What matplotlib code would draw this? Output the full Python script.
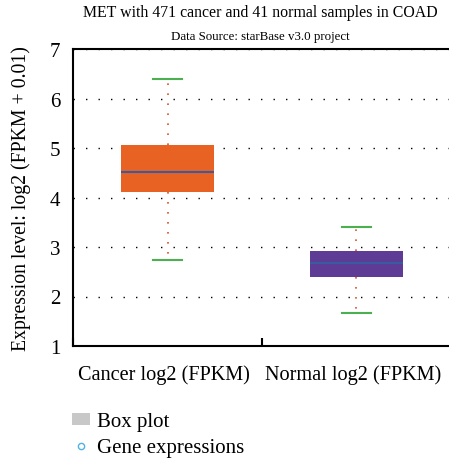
import matplotlib
matplotlib.use("Agg")
import matplotlib.pyplot as plt
from matplotlib.lines import Line2D
from matplotlib.patches import Patch

plt.rcParams['font.family'] = ['Liberation Serif', 'DejaVu Serif']

categories = ["Cancer log2 (FPKM)", "Normal log2 (FPKM)"]
q1 = [4.12, 2.40]
medians = [4.51, 2.68]
q3 = [5.06, 2.92]
whislo = [2.74, 1.67]
whishi = [6.39, 3.40]
box_colors = ["#E86224", "#5E3C96"]
yticks = [1, 2, 3, 4, 5, 6, 7]

fig = plt.figure(figsize=(4.49, 4.64), dpi=100)
ax = fig.add_axes([73/449, 1-347/464, 378/449, 297/464])

stats = []
for i, c in enumerate(categories):
    stats.append(dict(label=c, q1=q1[i], med=medians[i], q3=q3[i],
                      whislo=whislo[i], whishi=whishi[i], fliers=[]))
positions = [0.5, 1.5]
bp = ax.bxp(stats, positions=positions, widths=0.49, patch_artist=True,
            showfliers=False,
            boxprops=dict(linewidth=0),
            medianprops=dict(color="#3A5BA0", linewidth=1.5),
            whiskerprops=dict(color="#D9542E", linestyle=(0, (1, 5)), linewidth=1.2),
            capprops=dict(color="#4CAF50", linewidth=1.5),
            capwidths=0.15)
for patch, col in zip(bp['boxes'], box_colors):
    patch.set_facecolor(col)
    patch.set_edgecolor(col)
    patch.set_zorder(3)
for m in bp['medians']:
    m.set_zorder(4)

ax.set_xlim(0, 2)
ax.set_ylim(1, 7)
ax.set_yticks(yticks)
ax.set_yticklabels([str(t) for t in yticks], fontsize=15)
ax.tick_params(axis='y', length=0, pad=9)
ax.set_xticks([0, 1, 2])
ax.set_xticklabels([])
ax.set_xticks([p - 0.02 for p in positions], minor=True)
ax.set_xticklabels(categories, minor=True, fontsize=14.6)
ax.tick_params(axis='x', which='minor', length=0, pad=13)
ax.tick_params(axis='x', which='major', length=6, width=1.5, direction='in')
ax.yaxis.grid(True, color='black', linestyle=(0, (1, 8)), linewidth=1)
ax.set_axisbelow(True)
for s in ax.spines.values():
    s.set_linewidth(1.5)
ax.spines['right'].set_visible(False)

ax.set_ylabel("Expression level: log2 (FPKM + 0.01)", fontsize=14.2, labelpad=14)

fig.text(0.58, 1-13/464, "MET with 471 cancer and 41 normal samples in COAD",
         ha='center', va='center', fontsize=11.4)
fig.text(0.58, 1-37/464, "Data Source: starBase v3.0 project",
         ha='center', va='center', fontsize=9.3)

handles = [Patch(facecolor="#C8C8C8", edgecolor="none"),
           Line2D([], [], marker='o', linestyle='none', markerfacecolor='none',
                  markeredgecolor="#4FB3E8", markersize=4.5)]
fig.legend(handles, ["Box plot", "Gene expressions"], loc='upper left',
           bbox_to_anchor=(72/449, 1-413/464), frameon=False, fontsize=15,
           borderpad=0, borderaxespad=0,
           handlelength=0.85, handleheight=0.5, handletextpad=0.35,
           labelspacing=0.35)

fig.savefig("out.png", dpi=100)
